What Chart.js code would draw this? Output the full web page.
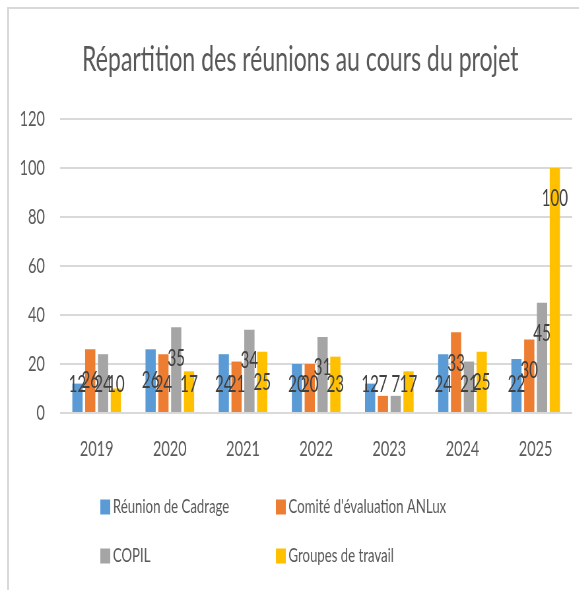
<!DOCTYPE html>
<html>

<head>
    <title>Répartition des réunions</title>
    <script src="https://cdn.jsdelivr.net/npm/chart.js"></script>
    <style>
        body {
            margin: 0;
            background: #ffffff;
            overflow: hidden;
            width: 579px;
            height: 590px;
        }

        #frame {
            position: absolute;
            left: 7px;
            top: 7px;
            right: 0;
            bottom: 0;
            border-left: 2px solid #d9d9d9;
            border-top: 2px solid #d9d9d9;
        }

        /* the chart is drawn wide, then squeezed like the original picture */
        #wrap {
            position: absolute;
            left: 0;
            top: 0;
            width: 877px;
            height: 590px;
            transform: scaleX(0.66);
            transform-origin: 0 0;
        }
    </style>
</head>

<body>
    <div id="frame"></div>
    <div id="wrap">
        <canvas id="meetingsChart" width="877" height="590"></canvas>
    </div>

    <script>
        const years = ['2019', '2020', '2021', '2022', '2023', '2024', '2025'];
        const cadrage = [12, 26, 24, 20, 12, 24, 22];
        const comite = [26, 24, 21, 20, 7, 33, 30];
        const copil = [24, 35, 34, 31, 7, 21, 45];
        const groupes = [10, 17, 25, 23, 17, 25, 100];
        const seriesNames = ['Réunion de Cadrage', "Comité d'évaluation ANLux", 'COPIL', 'Groupes de travail'];
        const seriesColors = ['#5b9bd5', '#ed7d31', '#a5a5a5', '#ffc000'];
        const chartTitle = 'Répartition des réunions au cours du projet';

        const FONT = 'Lato, "Open Sans", sans-serif';

        // title, a bit left of the plot centre like in the original
        const titleText = {
            id: 'titleText',
            afterDraw(chart) {
                const ctx = chart.ctx;
                ctx.save();
                ctx.font = '35px ' + FONT;
                ctx.fillStyle = '#595959';
                ctx.textAlign = 'center';
                ctx.textBaseline = 'middle';
                ctx.fillText(chartTitle, 455, 60);
                ctx.restore();
            }
        };

        // value labels, drawn just under the top of each bar
        const barLabels = {
            id: 'barLabels',
            afterDatasetsDraw(chart) {
                const ctx = chart.ctx;
                const zero = chart.scales.y.getPixelForValue(0);
                ctx.save();
                ctx.font = '23px ' + FONT;
                ctx.fillStyle = '#404040';
                ctx.textAlign = 'center';
                ctx.textBaseline = 'middle';
                chart.data.datasets.forEach((ds, i) => {
                    chart.getDatasetMeta(i).data.forEach((bar, j) => {
                        const y = Math.min(bar.y + 31, zero - 28);
                        ctx.fillText(String(ds.data[j]), bar.x, y);
                    });
                });
                ctx.restore();
            }
        };

        // legend in two aligned columns
        const gridLegend = {
            id: 'gridLegend',
            afterDraw(chart) {
                const ctx = chart.ctx;
                const cols = [152, 418];
                const rows = [507, 556];
                ctx.save();
                ctx.font = '20px ' + FONT;
                ctx.textBaseline = 'middle';
                ctx.textAlign = 'left';
                chart.data.datasets.forEach((ds, i) => {
                    const x = cols[i % 2];
                    const y = rows[Math.floor(i / 2)];
                    ctx.fillStyle = ds.backgroundColor;
                    ctx.fillRect(x, y - 7.5, 15, 15);
                    ctx.fillStyle = '#595959';
                    ctx.fillText(ds.label, x + 19, y);
                });
                ctx.restore();
            }
        };

        const ctx = document.getElementById('meetingsChart').getContext('2d');
        const meetingsChart = new Chart(ctx, {
            type: 'bar',
            data: {
                labels: years,
                datasets: [cadrage, comite, copil, groupes].map((values, i) => ({
                    label: seriesNames[i],
                    data: values,
                    backgroundColor: seriesColors[i],
                    categoryPercentage: 0.7,
                    barPercentage: 0.8
                }))
            },
            options: {
                responsive: false,
                maintainAspectRatio: false,
                devicePixelRatio: 1,
                animation: false,
                layout: {
                    padding: {
                        left: 0,
                        right: 10,
                        top: 119,
                        bottom: 117
                    }
                },
                plugins: {
                    legend: {
                        display: false
                    },
                    tooltip: {
                        enabled: false
                    },
                    title: {
                        display: false
                    }
                },
                scales: {
                    x: {
                        grid: {
                            display: false
                        },
                        border: {
                            display: false
                        },
                        ticks: {
                            color: '#595959',
                            padding: 15,
                            font: {
                                family: FONT,
                                size: 22
                            }
                        },
                        afterFit(axis) {
                            axis.height = 60;
                        }
                    },
                    y: {
                        min: 0,
                        max: 120,
                        grid: {
                            color: '#d9d9d9',
                            lineWidth: 2,
                            drawTicks: false
                        },
                        border: {
                            display: false
                        },
                        ticks: {
                            stepSize: 20,
                            color: '#595959',
                            padding: 23,
                            font: {
                                family: FONT,
                                size: 22
                            }
                        },
                        afterFit(axis) {
                            axis.width = 91;
                        }
                    }
                }
            },
            plugins: [titleText, barLabels, gridLegend]
        });
    </script>
</body>

</html>
